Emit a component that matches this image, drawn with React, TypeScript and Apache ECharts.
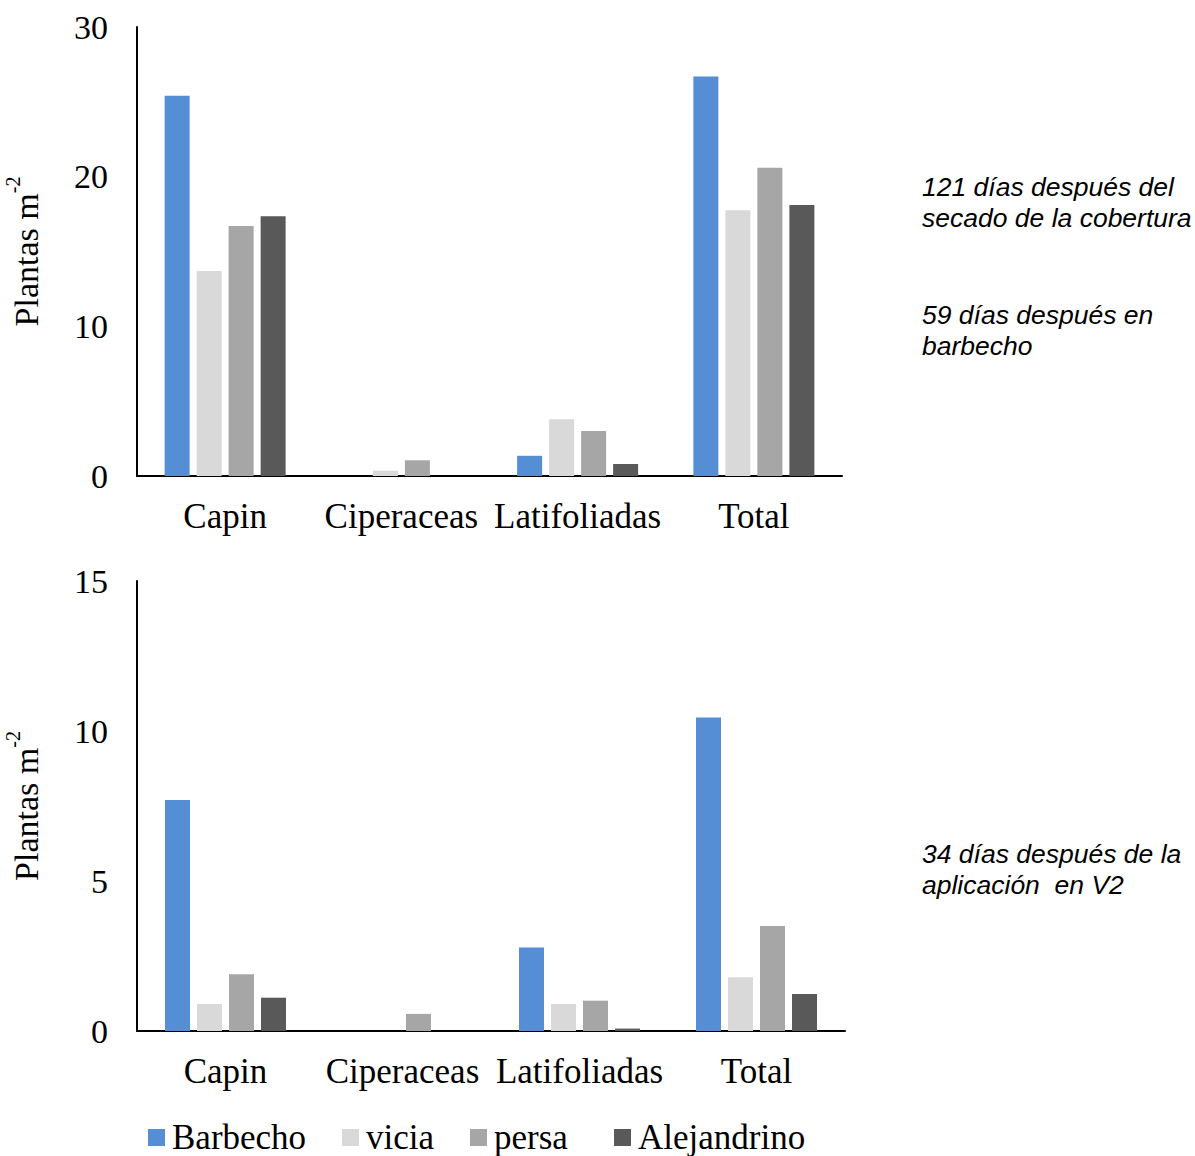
import React, { useEffect, useRef } from "react";
import * as echarts from "echarts";

const categories = ["Capin", "Ciperaceas", "Latifoliadas", "Total"];
const seriesNames = ["Barbecho", "vicia", "persa", "Alejandrino"];
const colors = ["#558ED5", "#D9D9D9", "#A6A6A6", "#595959"];

// Top chart: 121 días después del secado de la cobertura / 59 días después en barbecho
const topBarbecho = [25.4, 0, 1.35, 26.7];
const topVicia = [13.7, 0.35, 3.8, 17.75];
const topPersa = [16.7, 1.05, 3.0, 20.6];
const topAlejandrino = [17.35, 0, 0.8, 18.1];

// Bottom chart: 34 días después de la aplicación en V2
const botBarbecho = [7.7, 0, 2.78, 10.45];
const botVicia = [0.9, 0, 0.9, 1.79];
const botPersa = [1.89, 0.57, 1.01, 3.5];
const botAlejandrino = [1.11, 0, 0.08, 1.23];

const topTicks = { min: 0, max: 30, interval: 10 };
const botTicks = { min: 0, max: 15, interval: 5 };

const notes = [
  { text: "121 días después del\nsecado de la cobertura", top: 171 },
  { text: "59 días después en\nbarbecho", top: 299 },
  { text: "34 días después de la\naplicación  en V2", top: 838 },
];

const SERIF = "'Liberation Serif', 'Times New Roman', serif";
const SANS = "'Liberation Sans', Arial, sans-serif";

export default function App() {
  const ref = useRef<HTMLDivElement>(null);

  useEffect(() => {
    document.body.style.margin = "0";
    if (!ref.current) return;
    const chart = echarts.init(ref.current, undefined, { renderer: "svg" });

    const yAxisCommon = (t: { min: number; max: number; interval: number }, gridIndex: number) => ({
      type: "value",
      gridIndex,
      min: t.min,
      max: t.max,
      interval: t.interval,
      name: "{a|Plantas m}{b|-2}",
      nameLocation: "middle",
      nameGap: 94,
      nameRotate: 90,
      nameTextStyle: {
        rich: {
          a: { fontSize: 34, fontFamily: SERIF, color: "#000", lineHeight: 40, verticalAlign: "bottom" },
          b: { fontSize: 20, fontFamily: SERIF, color: "#000", verticalAlign: "top", lineHeight: 40 },
        },
      },
      axisLine: { show: true, lineStyle: { color: "#000", width: 2 } },
      axisTick: { show: false },
      splitLine: { show: false },
      axisLabel: { fontSize: 34, fontFamily: SERIF, color: "#000", margin: 29 },
    });

    const xAxisCommon = (gridIndex: number) => ({
      type: "category",
      gridIndex,
      data: categories,
      axisLine: { show: true, lineStyle: { color: "#000", width: 2 } },
      axisTick: { show: false },
      axisLabel: { fontSize: 35, fontFamily: SERIF, color: "#000", margin: 23, interval: 0 },
    });

    const topData = [topBarbecho, topVicia, topPersa, topAlejandrino];
    const botData = [botBarbecho, botVicia, botPersa, botAlejandrino];

    const series: any[] = [];
    seriesNames.forEach((name, i) => {
      series.push({
        type: "bar",
        name,
        xAxisIndex: 0,
        yAxisIndex: 0,
        data: topData[i],
        barWidth: 25,
        barGap: "28%",
        itemStyle: { color: colors[i] },
      });
    });
    seriesNames.forEach((name, i) => {
      series.push({
        type: "bar",
        name,
        xAxisIndex: 1,
        yAxisIndex: 1,
        data: botData[i],
        barWidth: 25,
        barGap: "28%",
        itemStyle: { color: colors[i] },
      });
    });

    const legendLefts = [148, 342, 470, 614];

    chart.setOption({
      animation: false,
      backgroundColor: "#fff",
      grid: [
        { left: 137, top: 27, width: 705, height: 449, containLabel: false, outerBoundsMode: "none" },
        { left: 137, top: 581, width: 708, height: 450, containLabel: false, outerBoundsMode: "none" },
      ],
      xAxis: [xAxisCommon(0), xAxisCommon(1)],
      yAxis: [yAxisCommon(topTicks, 0), yAxisCommon(botTicks, 1)],
      legend: seriesNames.map((name, i) => ({
        data: [name],
        left: legendLefts[i],
        top: 1120,
        icon: "rect",
        itemWidth: 17,
        itemHeight: 17,
        itemGap: 7,
        padding: 0,
        textStyle: { fontSize: 35, fontFamily: SERIF, color: "#000", padding: [0, 0, 0, 2] },
      })),
      graphic: notes.map((n) => ({
        type: "text",
        left: 922,
        top: n.top,
        style: {
          text: n.text,
          font: `italic 26.5px ${SANS}`,
          fontSize: 26.5,
          fontStyle: "italic",
          fontFamily: SANS,
          lineHeight: 31,
          fill: "#000",
        },
      })),
      series,
    });

    return () => chart.dispose();
  }, []);

  return <div ref={ref} style={{ width: 1195, height: 1156 }} />;
}
